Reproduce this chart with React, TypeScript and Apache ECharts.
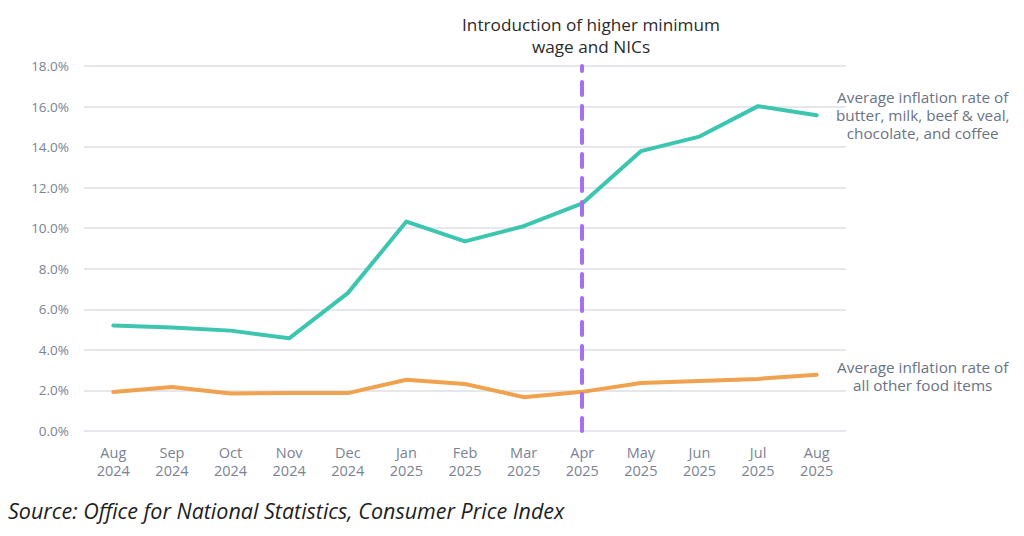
import React, { useEffect, useRef } from "react";
import * as echarts from "echarts";

const categories = [
  "Aug\n2024", "Sep\n2024", "Oct\n2024", "Nov\n2024", "Dec\n2024",
  "Jan\n2025", "Feb\n2025", "Mar\n2025", "Apr\n2025", "May\n2025",
  "Jun\n2025", "Jul\n2025", "Aug\n2025",
];
const selectedItems = [5.2, 5.1, 4.95, 4.57, 6.8, 10.33, 9.35, 10.1, 11.22, 13.8, 14.52, 16.02, 15.57];
const otherItems = [1.92, 2.17, 1.85, 1.87, 1.87, 2.53, 2.32, 1.67, 1.93, 2.37, 2.46, 2.57, 2.77];
const markerCategory = "Apr\n2025";
const selectedLabel = "Average inflation rate of\nbutter, milk, beef & veal,\nchocolate, and coffee";
const otherLabel = "Average inflation rate of\nall other food items";
const annotation = "Introduction of higher minimum\nwage and NICs";
const sourceText = "Source: Office for National Statistics, Consumer Price Index";

const FONT = "'Open Sans', Lato, sans-serif";

export default function App() {
  const ref = useRef<HTMLDivElement>(null);
  useEffect(() => {
    if (!ref.current) return;
    const chart = echarts.init(ref.current, undefined, { renderer: "svg" });
    chart.setOption({
      animation: false,
      backgroundColor: "#ffffff",
      textStyle: { fontFamily: FONT },
      grid: { left: 84, right: 178, top: 66, bottom: 105 },
      xAxis: {
        type: "category",
        data: categories,
        boundaryGap: true,
        axisLine: { show: false },
        axisTick: { show: false },
        axisLabel: { color: "#7a8294", fontSize: 14.5, lineHeight: 18, margin: 12, fontFamily: FONT },
      },
      yAxis: {
        type: "value",
        min: 0,
        max: 18,
        interval: 2,
        axisLine: { show: false },
        axisTick: { show: false },
        axisLabel: {
          color: "#7a8294",
          fontSize: 13.5,
          margin: 15,
          fontFamily: FONT,
          formatter: (v: number) => v.toFixed(1) + "%",
        },
        splitLine: { lineStyle: { color: "#dedfe6", width: 1.5 } },
      },
      series: [
        {
          type: "line",
          data: selectedItems,
          symbol: "none",
          lineStyle: { color: "#3cc6b0", width: 4, cap: "round", join: "round" },
          endLabel: {
            show: true,
            formatter: selectedLabel,
            color: "#6b7385",
            fontSize: 15.3,
            lineHeight: 18,
            align: "center",
            offset: [98, 0],
            fontFamily: FONT,
          },
          markLine: {
            silent: true,
            symbol: "none",
            label: { show: false },
            lineStyle: { color: "#a66ff0", width: 4, type: [13, 11], cap: "round" },
            data: [{ xAxis: markerCategory }],
          },
          z: 3,
        },
        {
          type: "line",
          data: otherItems,
          symbol: "none",
          lineStyle: { color: "#f0a24f", width: 4, cap: "round", join: "round" },
          endLabel: {
            show: true,
            formatter: otherLabel,
            color: "#6b7385",
            fontSize: 15.3,
            lineHeight: 18,
            align: "center",
            offset: [98, 1],
            fontFamily: FONT,
          },
          z: 2,
        },
      ],
      graphic: [
        {
          type: "text",
          x: 591,
          y: 13,
          style: {
            text: annotation,
            fill: "#2b2b2b",
            fontSize: 17.2,
            lineHeight: 22,
            align: "center",
            verticalAlign: "top",
            fontFamily: FONT,
          },
        },
        {
          type: "text",
          x: 8,
          y: 499,
          style: {
            text: sourceText,
            fill: "#1e1e1e",
            fontSize: 21.5,
            fontStyle: "italic",
            verticalAlign: "top",
            fontFamily: FONT,
          },
        },
      ],
    });
    return () => chart.dispose();
  }, []);
  return <div ref={ref} style={{ width: 1024, height: 536, margin: -8 }} />;
}
